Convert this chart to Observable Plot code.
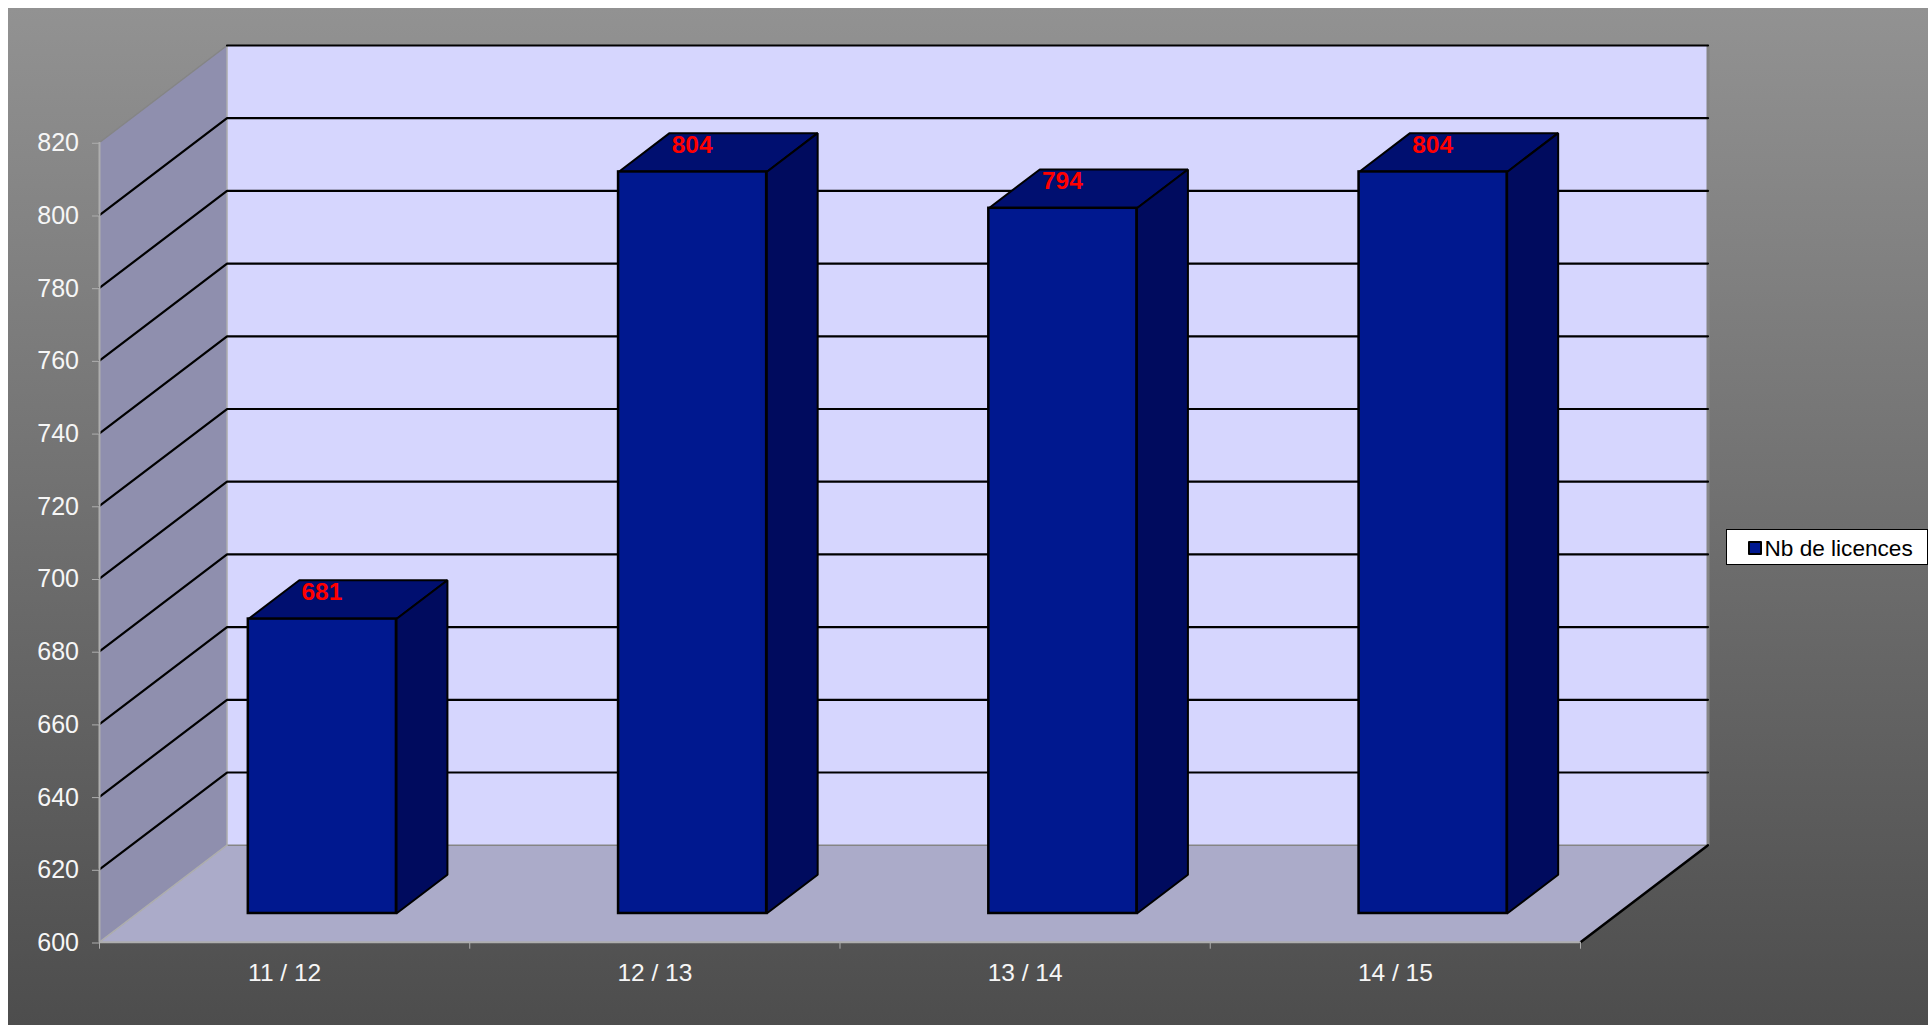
<!DOCTYPE html>
<html lang="fr">
<head>
<meta charset="utf-8">
<title>Nb de licences</title>
<script src="https://cdn.jsdelivr.net/npm/d3@7"></script>
<script src="https://cdn.jsdelivr.net/npm/@observablehq/plot@0.6"></script>
<style>
  html, body { margin: 0; padding: 0; background: #fff; overflow: hidden; }
  #wrap { position: absolute; left: 8px; top: 8px; width: 1920px; height: 1017px; }
  #legend {
    position: absolute; left: 1717.5px; top: 520.5px; width: 200px; height: 34px;
    background: #fff; border: 1px solid #000; font: 22.6px "Liberation Sans", Arial, sans-serif; color: #000;
  }
  #legend i {
    position: absolute; left: 21px; top: 11px; width: 10px; height: 10px;
    background: #00188f; border: 2px solid #000; border-radius: 1px;
  }
  #legend span { position: absolute; left: 38px; top: 6px; line-height: 26px; white-space: nowrap; }
</style>
</head>
<body>
<div id="wrap"><div id="legend"><i></i><span>Nb de licences</span></div></div>
<script>
const categories = ["11 / 12", "12 / 13", "13 / 14", "14 / 15"];
const seriesName = "Nb de licences";
const values = [681, 804, 794, 804];
const yTicks = [600, 620, 640, 660, 680, 700, 720, 740, 760, 780, 800, 820];

// Oblique depth of the chart box, in scale units (x: categories, y: licences)
const depthX = 0.3444, depthY = 26.68;
const barFrom = 0.3, barTo = 0.7, gapDepth = 0.296, barDepth = 0.4;
const yMin = yTicks[0], yMax = yTicks[yTicks.length - 1], n = categories.length;
const at = (c, v, d) => ({x: c + d * depthX, y: v + d * depthY});

const colors = {
  wall: "#d6d6fe", side: "#8f8fae", floor: "#ababc9", edge: "#858585", axis: "#aeaeae",
  front: "#00188f", top: "#000f70", right: "#000b5e", label: "#ff0000", text: "#f6f6f6"
};

const poly = (pts, fill, stroke, strokeWidth) =>
  Plot.line([...pts, pts[0]], {x: "x", y: "y", fill, stroke, strokeWidth, curve: "linear-closed", strokeLinejoin: "miter"});
const line = (pts, stroke, strokeWidth) =>
  Plot.line(pts, {x: "x", y: "y", stroke, strokeWidth, curve: "linear"});

const bars = values.map((v, i) => ({cat: categories[i], i, v}));
const x0 = d => d.i + barFrom, x1 = d => d.i + barTo;

const topRows = bars.flatMap(d => {
  const a = gapDepth, b = gapDepth + barDepth;
  return [at(x0(d), d.v, a), at(x0(d), d.v, b), at(x1(d), d.v, b), at(x1(d), d.v, a), at(x0(d), d.v, a)]
    .map(p => ({...p, k: d.i}));
});
const rightRows = bars.flatMap(d => {
  const a = gapDepth, b = gapDepth + barDepth;
  return [at(x1(d), d.v, a), at(x1(d), d.v, b), at(x1(d), yMin, b), at(x1(d), yMin, a), at(x1(d), d.v, a)]
    .map(p => ({...p, k: d.i}));
});

const gridRows = yTicks.flatMap(v => {
  const pts = v === yMax
    ? [at(0, v, 1), at(n, v, 1)]
    : v === yMin ? [] : [at(0, v, 0), at(0, v, 1), at(n, v, 1)];
  return pts.map(p => ({...p, k: v}));
});

const chart = Plot.plot({
  width: 1920,
  height: 1017,
  marginLeft: 91,
  marginRight: 220.5,
  marginTop: 37,
  marginBottom: 83.3,
  style: {
    background: "linear-gradient(to bottom, #929292 0%, #4d4d4d 100%)",
    fontFamily: "'Liberation Sans', Arial, sans-serif",
    overflow: "visible"
  },
  x: {type: "linear", domain: [0, n + depthX]},
  y: {type: "linear", domain: [yMin, yMax + depthY]},
  marks: [
    poly([at(0, yMin, 1), at(0, yMax, 1), at(n, yMax, 1), at(n, yMin, 1)], colors.wall, "none", 0),
    poly([at(0, yMin, 0), at(0, yMax, 0), at(0, yMax, 1), at(0, yMin, 1)], colors.side, "none", 0),
    poly([at(0, yMin, 0), at(0, yMin, 1), at(n, yMin, 1), at(n, yMin, 0)], colors.floor, "none", 0),
    line([at(0, yMin, 1), at(n, yMin, 1)], colors.edge, 1.5),
    line([at(0, yMin, 1), at(0, yMax, 1)], colors.axis, 1.5),
    line([at(0, yMin, 0), at(0, yMin, 1)], colors.axis, 1.5),
    line([at(0, yMax, 0), at(0, yMax, 1)], colors.edge, 1.5),
    line([at(n, yMin, 1), at(n, yMax, 1)], colors.edge, 3),
    line([at(n, yMin, 0), at(n, yMin, 1)], "#000", 2.5),
    Plot.line(gridRows, {x: "x", y: "y", z: "k", stroke: "#000", strokeWidth: 2.2, curve: "linear"}),
    Plot.ruleX([0], {y1: yMin, y2: yMax, stroke: colors.axis, strokeWidth: 2}),
    Plot.ruleY([yMin], {x1: 0, x2: n, stroke: colors.axis, strokeWidth: 2}),
    Plot.line(topRows, {x: "x", y: "y", z: "k", fill: colors.top, stroke: "#000", strokeWidth: 2, curve: "linear", strokeLinejoin: "miter"}),
    Plot.line(rightRows, {x: "x", y: "y", z: "k", fill: colors.right, stroke: "#000", strokeWidth: 2, curve: "linear", strokeLinejoin: "miter"}),
    Plot.rect(bars, {
      x1: d => at(x0(d), yMin, gapDepth).x,
      x2: d => at(x1(d), yMin, gapDepth).x,
      y1: d => at(0, yMin, gapDepth).y,
      y2: d => at(0, d.v, gapDepth).y,
      fill: colors.front, stroke: "#000", strokeWidth: 2.5
    }),
    Plot.text(bars, {
      x: d => at(d.i + 0.5, d.v, gapDepth).x,
      y: d => at(0, d.v, gapDepth).y,
      text: d => String(d.v),
      dx: -0.5,
      dy: -27,
      fill: colors.label,
      fontSize: 24.5,
      fontWeight: "bold"
    }),
    Plot.axisY(yTicks, {
      anchor: "left", label: null, tickSize: 7, tickPadding: 13.5, dy: 0.8,
      stroke: colors.axis, color: colors.text, fontSize: 25, tickFormat: d => String(d),
      textStroke: "none"
    }),
    Plot.axisX(d3.range(n + 1), {
      anchor: "bottom", label: null, tickSize: 7, tickFormat: () => "", stroke: colors.axis
    }),
    Plot.axisX(categories.map((c, i) => i + 0.5), {
      anchor: "bottom", label: null, tickSize: 0, tickPadding: 21.5,
      color: colors.text, fontSize: 24.5, dx: 0, tickFormat: (d) => categories[d - 0.5]
    })
  ]
});
document.getElementById("wrap").prepend(chart);
</script>
</body>
</html>
